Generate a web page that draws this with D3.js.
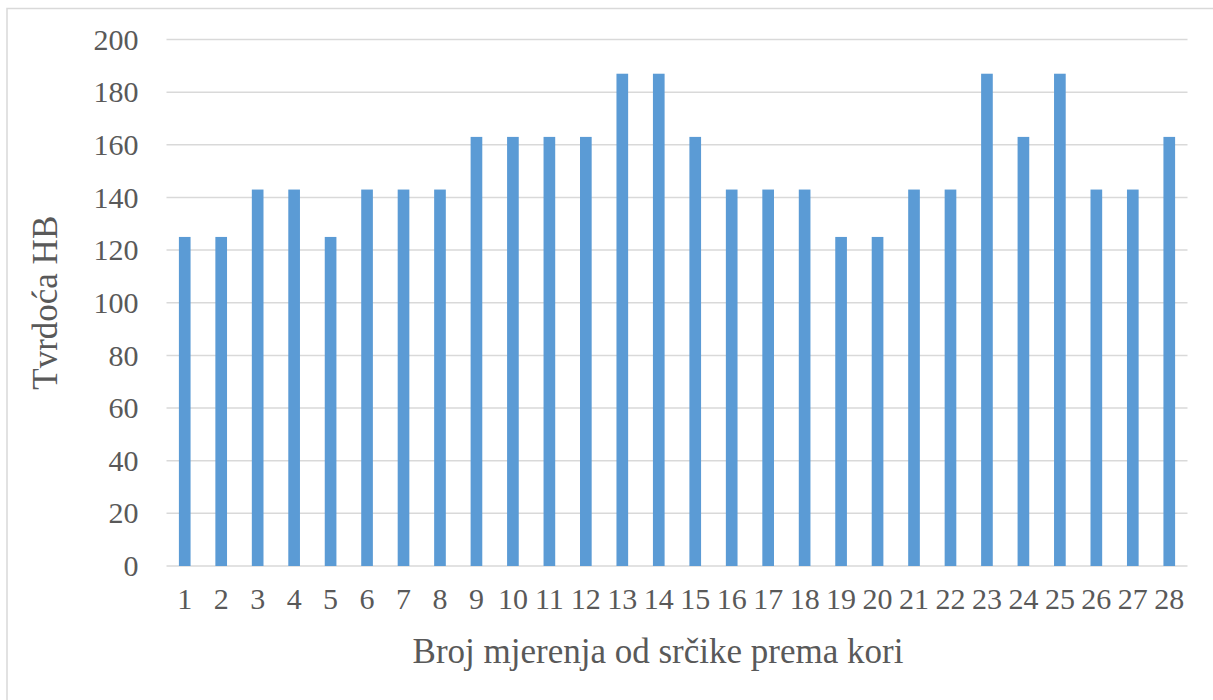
<!DOCTYPE html>
<html>
<head>
<meta charset="utf-8">
<script src="https://cdn.jsdelivr.net/npm/d3@7"></script>
<style>
  body { margin: 0; background: #fff; }
  svg { display: block; }
</style>
</head>
<body>
<svg id="chart" width="1213" height="700"></svg>
<script>
// measurement number (core to bark) and hardness HB
const mjerenja = d3.range(1, 29).map(String);
const tvrdoca = [125, 125, 143, 143, 125, 143, 143, 143, 163, 163, 163, 163, 187, 187,
                 163, 143, 143, 143, 125, 125, 143, 143, 187, 163, 187, 143, 143, 163];
const yTicks = [0, 20, 40, 60, 80, 100, 120, 140, 160, 180, 200];

const svg = d3.select("#chart");
const margin = { top: 39.5, right: 25.5, bottom: 134, left: 166.5 };
const width = 1213 - margin.left - margin.right;
const height = 700 - margin.top - margin.bottom;

// outer chart border
svg.append("rect")
  .attr("x", 7).attr("y", 8.5)
  .attr("width", 1213).attr("height", 700)
  .attr("fill", "none").attr("stroke", "#d9d9d9").attr("stroke-width", 1.5);

const g = svg.append("g").attr("transform", "translate(" + margin.left + "," + margin.top + ")");

const x = d3.scaleBand().domain(mjerenja).range([0, width]).paddingInner(0.68).paddingOuter(0.34);
const y = d3.scaleLinear().domain([0, 200]).range([height, 0]);

// gridlines
g.append("g")
  .selectAll("line")
  .data(yTicks)
  .enter()
  .append("line")
  .attr("x1", 0).attr("x2", width)
  .attr("y1", (d) => y(d)).attr("y2", (d) => y(d))
  .attr("stroke", "#d9d9d9").attr("stroke-width", 1.5);

// bars
g.append("g")
  .selectAll("rect")
  .data(tvrdoca)
  .enter()
  .append("rect")
  .attr("x", (d, i) => x(mjerenja[i]))
  .attr("y", (d) => y(d))
  .attr("width", x.bandwidth())
  .attr("height", (d) => height - y(d))
  .attr("fill", "#5b9bd5");

const font = "'Liberation Serif', 'Times New Roman', serif";

// y axis labels
const yAxis = g.append("g")
  .call(d3.axisLeft(y).tickValues(yTicks).tickSize(0).tickPadding(28));
yAxis.select(".domain").remove();
yAxis.selectAll("text")
  .style("font-family", font).style("font-size", "30px").attr("fill", "#595959");

// x axis labels
const xAxis = g.append("g")
  .attr("transform", "translate(0," + height + ")")
  .call(d3.axisBottom(x).tickSize(0).tickPadding(22));
xAxis.select(".domain").remove();
xAxis.selectAll("text")
  .style("font-family", font).style("font-size", "30px").attr("fill", "#595959");

// axis titles
svg.append("text")
  .attr("x", 658)
  .attr("y", 663)
  .attr("text-anchor", "middle")
  .style("font-family", font).style("font-size", "35px")
  .attr("fill", "#595959")
  .text("Broj mjerenja od srčike prema kori");

svg.append("text")
  .attr("transform", "translate(57," + (margin.top + height / 2) + ") rotate(-90)")
  .attr("text-anchor", "middle")
  .style("font-family", font).style("font-size", "35px")
  .attr("fill", "#595959")
  .text("Tvrdoća HB");
</script>
</body>
</html>
